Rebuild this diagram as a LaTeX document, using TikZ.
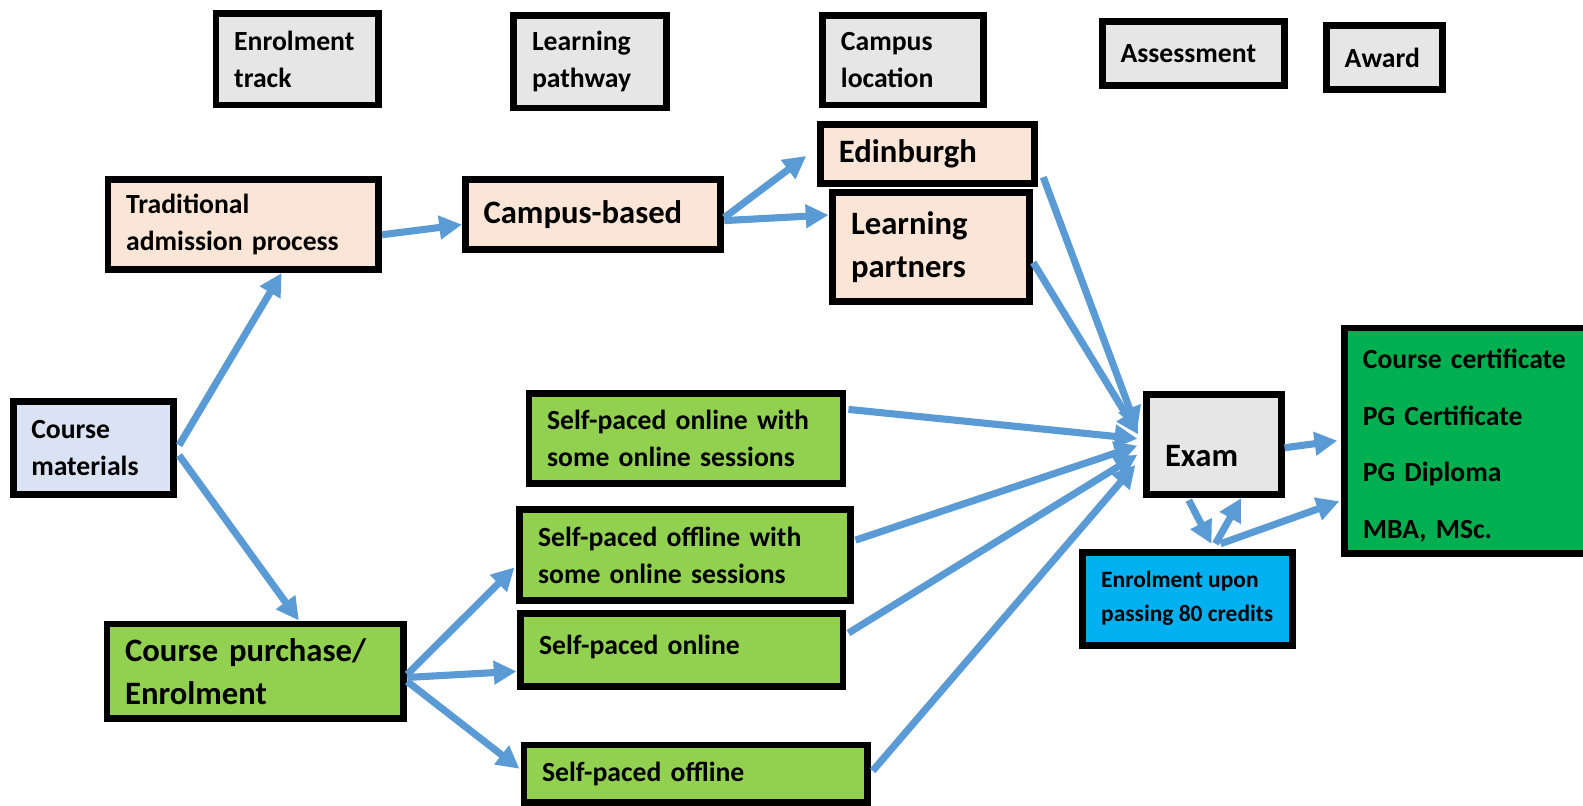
\documentclass[tikz,border=0pt]{standalone}
\usepackage{fontspec}
\setmainfont{Carlito}
\usetikzlibrary{arrows.meta,calc}

\definecolor{hdrgray}{HTML}{E7E6E6}
\definecolor{peach}{HTML}{FBE5D6}
\definecolor{paleblue}{HTML}{DAE3F3}
\definecolor{limegreen}{HTML}{92D050}
\definecolor{awardgreen}{HTML}{00B050}
\definecolor{skyblue}{HTML}{00B0F0}
\definecolor{flowblue}{HTML}{5B9BD5}

\hyphenpenalty=10000
\exhyphenpenalty=10000
\newcommand{\lblfont}{\fontsize{19.5pt}{26.3pt}\selectfont\bfseries}
\newcommand{\bigfont}{\fontsize{23pt}{30.5pt}\selectfont\bfseries}
\newcommand{\credfont}{\fontsize{16.5pt}{24pt}\selectfont\bfseries}
\newcommand{\awardfont}{\fontsize{19.5pt}{39.8pt}\selectfont\bfseries}

\tikzset{
  box/.style={draw=black,line width=4.8pt,inner xsep=0.45cm,inner ysep=0pt,
              align=left,font=\lblfont},
  hdr/.style={box,fill=hdrgray},
  campus/.style={box,fill=peach},
  online/.style={box,fill=limegreen},
  flow/.style={every edge/.style={draw=flowblue,line width=5pt,
               -{Triangle[length=16pt,width=16pt]}}}
}

\begin{document}
\begin{tikzpicture}[x=0.025cm,y=-0.025cm]
   \useasboundingbox (0,0) rectangle (1568,798);
   % column headings
   \node[hdr,text width=3.125cm,minimum height=2.275cm] (track)    at (294.5,58.5) {Enrolment\\track};
   \node[hdr,text width=2.875cm,minimum height=2.3cm]   (pathway)  at (584.5,61)   {Learning\\pathway};
   \node[hdr,text width=3.075cm,minimum height=2.225cm] (location) at (894.5,59.5) {Campus\\location};
   \node[hdr,text width=3.6cm,minimum height=1.6cm]     (assess)   at (1182,53)    {Assessment};
   \node[hdr,text width=1.975cm,minimum height=1.6cm]   (awardhdr) at (1371.5,57)  {Award};
   % campus track
   \node[campus,text width=5.8cm,minimum height=2.225cm]   (trad)     at (241,222.5)   {Traditional\\admission process};
   \node[campus,font=\bigfont,text width=5.425cm,minimum height=1.725cm] (based) at (587.5,212.5) {Campus-based};
   \node[campus,font=\bigfont,text width=4.4cm,minimum height=1.475cm]   (edin)  at (919,152.5)   {Edinburgh};
   \node[campus,font=\bigfont,text width=3.975cm,minimum height=2.7cm]   (partners) at (922.5,245) {Learning\\partners};
   % online track
   \node[box,fill=paleblue,text width=3.075cm,minimum height=2.3cm] (materials) at (92.5,444) {Course\\materials};
   \node[online,font=\bigfont,text width=6.45cm,minimum height=2.35cm] (purchase) at (253,665) {Course purchase/\\Enrolment};
   \node[online,text width=6.875cm,minimum height=2.225cm] (sonline)  at (679.5,434.5) {Self-paced online with\\some online sessions};
   \node[online,text width=7.275cm,minimum height=2.25cm]  (soffline) at (678.5,550)   {Self-paced offline with\\some online sessions};
   \node[online,text width=7.075cm,minimum height=1.8cm,text height=0.5cm,text depth=0.3cm] (ponline) at (675.5,644) {Self-paced online};
   \node[online,text width=7.6cm,minimum height=1.425cm]   (poffline) at (689,766.5)   {Self-paced offline};
   % assessment and award
   \node[hdr,font=\bigfont,text width=2.425cm,minimum height=2.475cm,text height=1.1cm,text depth=0cm] (exam) at (1202.5,440.5) {Exam};
   \node[box,fill=skyblue,font=\credfont,minimum width=5.2cm,minimum height=2.3cm] (credits) at (1176,593) {Enrolment upon\\passing 80 credits};
   \node[box,fill=awardgreen,font=\awardfont,text width=5.4cm,minimum height=5.575cm,text height=0.72cm] (awards) at (1458,436.5)
        {Course certificate\\PG Certificate\\PG Diploma\\MBA, MSc.};

   \path[flow]
    ($(materials.east)+(2,-3)$) edge ($(trad.south)+(38,0)$)
    ($(materials.east)+(2,7)$)  edge ($(purchase.north)+(43,0)$)
    ($(trad.east)+(0,10)$)      edge ($(based.west)+(0,10)$)
    ($(based.east)+(0,3)$)      edge ($(edin.west)+(-11,2)$)
    ($(based.east)+(0,6)$)      edge ($(partners.west)+(-1,-32)$)
    ($(edin.east)+(5,23)$)      edge ($(exam.west)+(-6,-15)$)
    ($(partners.east)+(0,15)$)  edge ($(exam.west)+(-5,-10)$)
    ($(sonline.east)+(2,-29)$)  edge ($(exam.west)+(-6,-6)$)
    ($(soffline.east)+(2,-15)$) edge ($(exam.west)+(-6,1)$)
    ($(ponline.east)+(2,-17)$)  edge ($(exam.west)+(-6,10)$)
    ($(poffline.east)+(2,-3)$)  edge ($(exam.west)+(-8,20)$)
    ($(purchase.east)+(0,3)$)   edge ($(soffline.west)+(-2,12)$)
    ($(purchase.east)+(0,6)$)   edge ($(ponline.west)+(-1,21)$)
    ($(purchase.east)+(0,10)$)  edge ($(poffline.west)+(-1,-5)$)
    ($(exam.east)+(0,3)$)       edge ($(awards.west)+(-4,0)$)
    ($(exam.south)+(-25,2)$)    edge ($(credits.north)+(24,-5)$)
    ($(credits.north)+(28,-5)$) edge ($(exam.south)+(27,0)$)
    ($(credits.north)+(33,-5)$) edge ($(awards.west)+(-2,60)$)
    ;
\end{tikzpicture}
\end{document}
